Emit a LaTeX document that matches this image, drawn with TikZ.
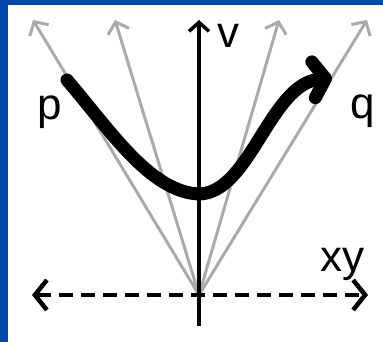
\documentclass[tikz,border=0pt]{standalone}
\usepackage{fontspec}
\setmainfont{Liberation Sans}
\usetikzlibrary{arrows.meta}
\definecolor{frameblue}{RGB}{0,72,170}
\definecolor{raygray}{RGB}{170,170,170}
\tikzset{
	ray/.style={draw=raygray, line width=3pt, -{Straight Barb[length=10pt, width=22pt]}},
	axis/.style={draw=black, line width=3.5pt, -{Straight Barb[length=9pt, width=20pt]}},
	lbl/.style={font=\fontsize{44}{44}\selectfont, inner sep=0pt},
}
\begin{document}
\begin{tikzpicture}[x=1pt, y=-1pt]
	\useasboundingbox (0,0) rectangle (383,342);
	\fill[frameblue] (0,0) rectangle (383,5);
	\fill[frameblue] (0,0) rectangle (8,342);
	\coordinate (o) at (199, 295);
	\coordinate (vbot) at (199, 326);
	\coordinate (vtop) at (199, 20);
	\coordinate (r1) at (33, 20);
	\coordinate (r2) at (115, 20);
	\coordinate (r3) at (279, 20);
	\coordinate (r4) at (367, 20);
	\coordinate (xl) at (32, 295);
	\coordinate (xr) at (368, 295);
	\coordinate (cs) at (67, 80);
	\coordinate (cm) at (199, 194);
	\coordinate (ce) at (332, 78);
	% grey rays
	\draw[ray] (o) -- (r1);
	\draw[ray] (o) -- (r2);
	\draw[ray] (o) -- (r3);
	\draw[ray] (o) -- (r4);
	% axes
	\draw[axis] (vbot) -- (vtop);
	\draw[line width=4.5pt, dash pattern=on 14pt off 8pt, {Straight Barb[length=12pt, width=30pt]}-{Straight Barb[length=12pt, width=30pt]}] (xl) -- (xr);
	% path from p to q
	\draw[line width=13pt, line cap=round, -{Straight Barb[round, length=12pt, width=36pt]}] (cs) .. controls (110,130) and (150,192) .. (cm) .. controls (250,193) and (270,84) .. (ce);
	\node[lbl] (v) at (228, 36) {v};
	\node[lbl] (p) at (50, 112) {p};
	\node[lbl] (q) at (363, 111) {q};
	\node[lbl] (xy) at (342, 264) {xy};
\end{tikzpicture}
\end{document}
